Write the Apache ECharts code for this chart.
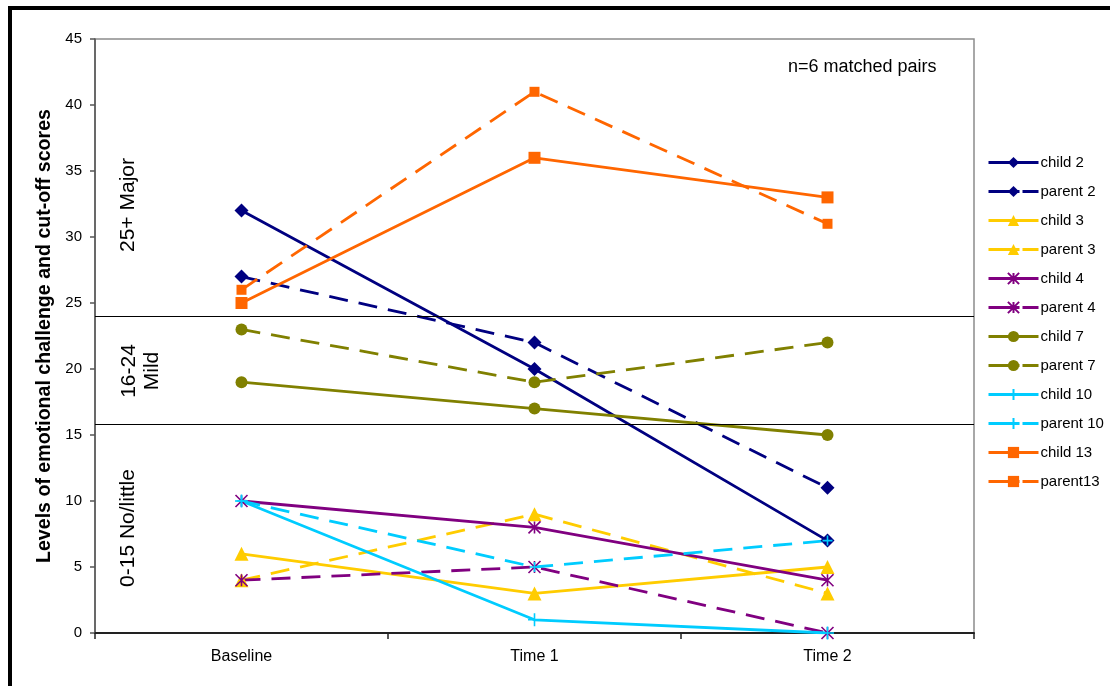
<!DOCTYPE html>
<html>
<head>
<meta charset="utf-8">
<script src="https://cdn.jsdelivr.net/npm/echarts@6/dist/echarts.min.js"></script>
<style>
  html, body { margin: 0; padding: 0; background: #fff; }
  #chart { width: 1110px; height: 686px; }
</style>
</head>
<body>
<div id="chart"></div>
<script>
// Time points
const categories = ['Baseline', 'Time 1', 'Time 2'];

// Scores per participant
const child2   = [32, 20, 7];
const parent2  = [27, 22, 11];
const child3   = [6, 3, 5];
const parent3  = [4, 9, 3];
const child4   = [10, 8, 4];
const parent4  = [4, 5, 0];
const child7   = [19, 17, 15];
const parent7  = [23, 19, 22];
const child10  = [10, 1, 0];
const parent10 = [10, 5, 7];
const child13  = [25, 36, 33];
const parent13 = [26, 41, 31];

// Cut-off lines between severity bands
const cutOffs = [24, 15.8];

const FONT = 'Liberation Sans, Arial, sans-serif';

const ASTERISK = 'path://M0,0L10,10M10,0L0,10M5,0L5,10';
const PLUS = 'path://M5,0L5,10M0,5L10,5';

function mk(name, data, color, symbol, size, dashed, strokeSymbol) {
  const s = {
    name: name,
    type: 'line',
    data: data,
    symbol: symbol,
    symbolSize: size,
    showSymbol: true,
    lineStyle: { color: color, width: 2.8, type: dashed ? [19, 11] : 'solid' },
    itemStyle: { color: color },
    emphasis: { disabled: true },
    animation: false,
    z: 3
  };
  if (strokeSymbol) {
    s.itemStyle = { color: 'none', borderColor: color, borderWidth: 1.6 };
  }
  return s;
}

const series = [
  mk('child 2', child2, '#000080', 'diamond', 14, false),
  mk('parent 2', parent2, '#000080', 'diamond', 14, true),
  mk('child 3', child3, '#FFCC00', 'triangle', 14, false),
  mk('parent 3', parent3, '#FFCC00', 'triangle', 14, true),
  mk('child 4', child4, '#800080', ASTERISK, 12, false, true),
  mk('parent 4', parent4, '#800080', ASTERISK, 12, true, true),
  mk('child 7', child7, '#808000', 'circle', 12, false),
  mk('parent 7', parent7, '#808000', 'circle', 12, true),
  mk('child 10', child10, '#00CCFF', PLUS, 13, false, true),
  mk('parent 10', parent10, '#00CCFF', PLUS, 10, true, true),
  mk('child 13', child13, '#FF6600', 'rect', 12, false),
  mk('parent13', parent13, '#FF6600', 'rect', 10, true)
];

// Cut-off lines attached to the first series
series[0].markLine = {
  silent: true,
  symbol: 'none',
  label: { show: false },
  lineStyle: { color: '#000', width: 1.2, type: 'solid' },
  data: cutOffs.map(v => ({ yAxis: v }))
};

// Legend entries: parent lines show a long dash, a short gap, then a dash
const legendData = series.map(s => {
  const isDashed = s.lineStyle.type !== 'solid';
  return isDashed
    ? { name: s.name, lineStyle: { type: [31, 3], width: 3 } }
    : { name: s.name, lineStyle: { width: 3 } };
});

const chart = echarts.init(document.getElementById('chart'), null, { renderer: 'canvas' });

chart.setOption({
  backgroundColor: '#fff',
  animation: false,
  textStyle: { fontFamily: FONT },
  grid: {
    left: 95, top: 39, right: 136, bottom: 53,
    show: true, borderColor: '#8c8c8c', borderWidth: 1.5, backgroundColor: '#fff'
  },
  xAxis: {
    type: 'category',
    data: categories,
    boundaryGap: true,
    axisLine: { lineStyle: { color: '#222', width: 2 } },
    axisTick: { show: true, interval: 0, length: 6, lineStyle: { color: '#222', width: 1.5 } },
    axisLabel: { color: '#000', fontSize: 16, fontFamily: FONT, margin: 16 },
    splitLine: { show: false }
  },
  yAxis: {
    type: 'value',
    min: 0, max: 45, interval: 5,
    name: 'Levels of emotional challenge and cut-off scores',
    nameLocation: 'middle',
    nameGap: 38,
    nameTextStyle: { color: '#000', fontSize: 19.6, fontWeight: 'bold', fontFamily: FONT },
    axisLine: { show: true, lineStyle: { color: '#555', width: 1.5 } },
    axisTick: { show: true, length: 5, lineStyle: { color: '#555', width: 1.5 } },
    axisLabel: { color: '#000', fontSize: 15, fontFamily: FONT, margin: 13 },
    splitLine: { show: false }
  },
  legend: {
    orient: 'vertical',
    left: 982, top: 143,
    itemWidth: 50, itemHeight: 14,
    itemGap: 0,
    lineStyle: { width: 3 },
    textStyle: { color: '#000', fontSize: 15, fontFamily: FONT, lineHeight: 29, padding: [0, 0, 0, -3] },
    data: legendData
  },
  graphic: [
    {
      type: 'rect', silent: true, z: 100,
      shape: { x: 10, y: 8, width: 1200, height: 800 },
      style: { fill: 'none', stroke: '#000', lineWidth: 4 }
    },
    {
      type: 'text', silent: true, z: 50,
      x: 788, y: 67,
      style: { text: 'n=6 matched pairs', fill: '#000', font: '18px ' + FONT, textVerticalAlign: 'middle' }
    },
    {
      type: 'text', silent: true, z: 50,
      x: 128, y: 205, rotation: Math.PI / 2,
      style: { text: '25+ Major', fill: '#000', font: '21px ' + FONT, textAlign: 'center', textVerticalAlign: 'middle' }
    },
    {
      type: 'text', silent: true, z: 50,
      x: 141, y: 371, rotation: Math.PI / 2,
      style: { text: '16-24\nMild', fill: '#000', font: '21px ' + FONT, textAlign: 'center', textVerticalAlign: 'middle', lineHeight: 23 }
    },
    {
      type: 'text', silent: true, z: 50,
      x: 128, y: 528, rotation: Math.PI / 2,
      style: { text: '0-15 No/little', fill: '#000', font: '21px ' + FONT, textAlign: 'center', textVerticalAlign: 'middle' }
    }
  ],
  series: series
});
</script>
</body>
</html>
